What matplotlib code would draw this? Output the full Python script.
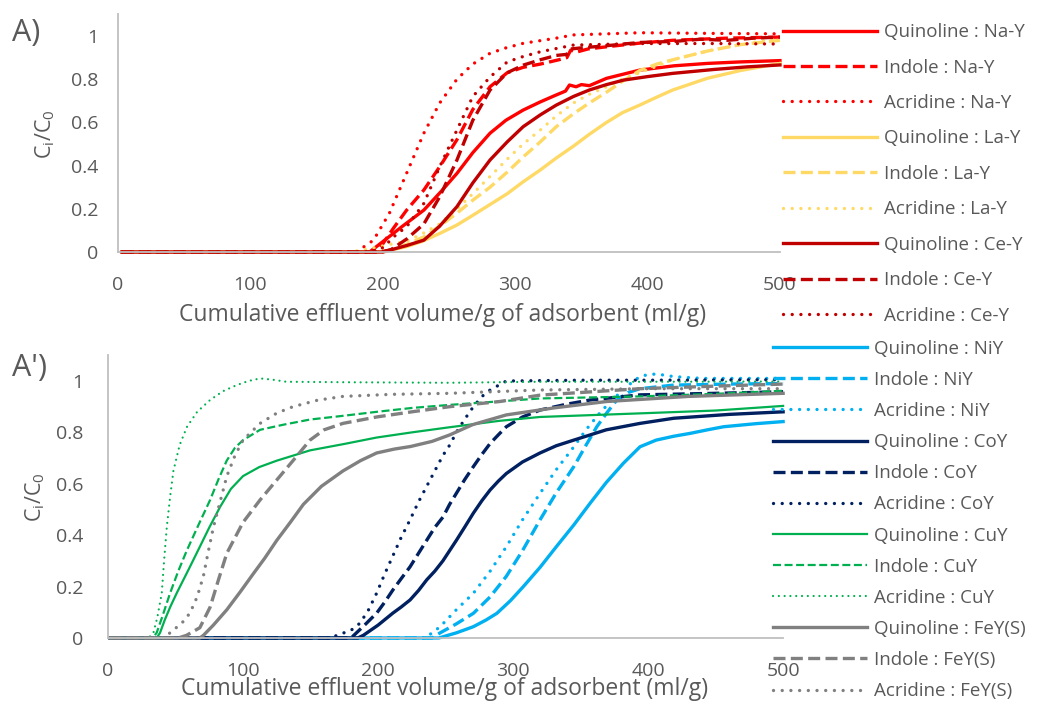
import matplotlib.pyplot as plt

plt.rcParams['font.family'] = ['Open Sans', 'DejaVu Sans']
GREY = '#595959'

# ---- panel A: Na-Y / La-Y / Ce-Y (x = ml/g, y = Ci/C0) ----
naq_x = [3, 190, 200, 215, 231, 244, 256, 268, 281, 293, 306, 319, 331, 338, 341, 346, 350, 356, 369, 394, 420, 445, 470, 500]
naq_y = [0, 0, 0.048, 0.12, 0.194, 0.28, 0.364, 0.46, 0.55, 0.61, 0.657, 0.695, 0.727, 0.745, 0.773, 0.765, 0.775, 0.77, 0.804, 0.842, 0.862, 0.873, 0.88, 0.886]
nai_x = [3, 192, 198, 208, 218, 231, 243, 256, 268, 281, 294, 306, 319, 333, 339, 342, 346, 355, 369, 394, 419, 460, 500]
nai_y = [0, 0, 0.02, 0.11, 0.194, 0.287, 0.395, 0.52, 0.66, 0.765, 0.83, 0.855, 0.87, 0.89, 0.9, 0.935, 0.925, 0.94, 0.95, 0.967, 0.98, 0.99, 0.995]
naa_x = [3, 180, 193, 205, 218, 231, 243, 256, 268, 281, 293, 306, 331, 344, 394, 450, 500]
naa_y = [0, 0, 0.055, 0.18, 0.365, 0.55, 0.69, 0.8, 0.87, 0.92, 0.945, 0.966, 0.99, 1.005, 1.015, 1.012, 1.01]
laq_x = [3, 195, 205, 218, 230, 243, 256, 268, 281, 294, 306, 319, 331, 344, 356, 369, 381, 394, 407, 419, 445, 470, 500]
laq_y = [0, 0, 0.008, 0.025, 0.05, 0.086, 0.125, 0.17, 0.22, 0.27, 0.325, 0.38, 0.435, 0.49, 0.545, 0.6, 0.645, 0.68, 0.717, 0.75, 0.804, 0.84, 0.873]
lai_x = [3, 200, 212, 231, 243, 256, 268, 281, 294, 306, 319, 331, 344, 356, 369, 381, 394, 407, 419, 445, 470, 500]
lai_y = [0, 0, 0.02, 0.07, 0.12, 0.18, 0.24, 0.3, 0.37, 0.44, 0.51, 0.58, 0.64, 0.69, 0.74, 0.79, 0.84, 0.87, 0.89, 0.93, 0.96, 0.98]
laa_x = [3, 175, 190, 205, 218, 230, 243, 256, 268, 281, 294, 306, 319, 331, 344, 356, 369, 381, 394, 407, 419, 445, 470, 500]
laa_y = [0, 0, 0.015, 0.035, 0.05, 0.085, 0.13, 0.2, 0.27, 0.35, 0.43, 0.5, 0.565, 0.63, 0.69, 0.73, 0.765, 0.8, 0.83, 0.86, 0.89, 0.93, 0.96, 0.99]
ceq_x = [3, 200, 206, 218, 231, 243, 256, 268, 281, 294, 306, 319, 331, 344, 356, 369, 382, 400, 419, 450, 475, 500]
ceq_y = [0, 0, 0.01, 0.03, 0.055, 0.12, 0.21, 0.32, 0.426, 0.51, 0.58, 0.635, 0.68, 0.72, 0.75, 0.775, 0.796, 0.812, 0.827, 0.845, 0.857, 0.866]
cei_x = [3, 198, 206, 218, 231, 243, 256, 268, 281, 294, 306, 319, 331, 339, 342, 350, 369, 394, 420, 440, 460, 480, 500]
cei_y = [0, 0, 0.01, 0.06, 0.13, 0.256, 0.426, 0.61, 0.75, 0.83, 0.865, 0.89, 0.91, 0.915, 0.94, 0.945, 0.955, 0.97, 0.975, 0.985, 0.98, 0.99, 0.995]
cea_x = [3, 190, 200, 210, 218, 231, 243, 256, 268, 281, 294, 306, 319, 344, 394, 450, 500]
cea_y = [0, 0, 0.02, 0.08, 0.117, 0.225, 0.395, 0.565, 0.72, 0.81, 0.88, 0.905, 0.927, 0.958, 0.965, 0.965, 0.963]

# ---- panel A': NiY / CoY / CuY / FeY(S) ----
niq_x = [1.5, 245, 258, 270.6, 280, 288, 298, 307.6, 320, 332, 345, 357, 369, 381.7, 394, 406, 419, 431, 444, 456, 480, 500]
niq_y = [0, 0, 0.02, 0.044, 0.07, 0.096, 0.145, 0.2, 0.275, 0.355, 0.44, 0.524, 0.605, 0.68, 0.744, 0.77, 0.785, 0.796, 0.81, 0.822, 0.834, 0.842]
nii_x = [1.5, 240, 246, 258, 270.6, 283, 295, 307, 320, 332, 345, 354, 362, 370, 376.8, 385, 394, 419, 460, 500]
nii_y = [0, 0, 0.02, 0.055, 0.096, 0.16, 0.24, 0.34, 0.46, 0.565, 0.667, 0.75, 0.822, 0.88, 0.926, 0.955, 0.97, 0.984, 0.988, 0.99]
nia_x = [1.5, 235, 246, 258, 270.6, 283, 295, 307, 320, 332, 345, 354, 364, 373, 381.7, 388, 394, 400, 406, 413, 419, 440, 500]
nia_y = [0, 0, 0.044, 0.11, 0.174, 0.26, 0.355, 0.46, 0.563, 0.655, 0.744, 0.81, 0.874, 0.925, 0.965, 0.995, 1.017, 1.025, 1.027, 1.022, 1.017, 1.01, 1.01]
coq_x = [1.5, 185, 189, 200, 211, 217, 223.7, 230, 236, 242, 248, 253, 258, 264, 270.6, 277, 283, 289, 295, 307, 320, 332, 345, 357, 369, 394, 419, 460, 500]
coq_y = [0, 0, 0.01, 0.05, 0.097, 0.12, 0.148, 0.185, 0.226, 0.26, 0.3, 0.34, 0.38, 0.43, 0.486, 0.535, 0.576, 0.61, 0.64, 0.685, 0.72, 0.748, 0.77, 0.79, 0.81, 0.835, 0.855, 0.87, 0.88]
coi_x = [1.5, 180, 184, 190, 199, 205, 211, 217, 223.7, 230, 236, 242, 248, 253, 258, 264, 270.6, 277, 283, 289, 295, 307, 320, 340, 357, 394, 450, 500]
coi_y = [0, 0, 0.02, 0.05, 0.097, 0.14, 0.187, 0.23, 0.277, 0.33, 0.38, 0.43, 0.47, 0.52, 0.563, 0.615, 0.667, 0.715, 0.757, 0.79, 0.822, 0.86, 0.887, 0.91, 0.926, 0.946, 0.952, 0.958]
coa_x = [1.5, 165, 169.4, 180, 186.7, 193, 199, 205, 211, 217, 223.7, 230, 236, 242, 248, 253, 258, 264, 270.6, 277, 283, 295, 350, 400, 500]
coa_y = [0, 0, 0.01, 0.03, 0.058, 0.11, 0.175, 0.25, 0.32, 0.39, 0.46, 0.53, 0.59, 0.65, 0.71, 0.75, 0.8, 0.85, 0.9, 0.94, 0.965, 1.0, 1.003, 1.003, 1.005]
cuq_x = [1.5, 36, 38.5, 42, 46, 50.9, 60, 68, 75, 83, 91, 100, 112, 125, 149.6, 175, 199, 225, 253, 290, 320, 394, 450, 500]
cuq_y = [0, 0, 0.02, 0.07, 0.12, 0.175, 0.27, 0.355, 0.43, 0.51, 0.58, 0.63, 0.665, 0.69, 0.73, 0.755, 0.78, 0.8, 0.82, 0.845, 0.86, 0.874, 0.885, 0.903]
cui_x = [1.5, 33, 36, 40, 46, 52, 58.3, 67, 75.6, 82, 87.9, 94, 100, 112.6, 130, 149.6, 175, 199, 225, 253, 320, 394, 450, 500]
cui_y = [0, 0, 0.02, 0.08, 0.175, 0.26, 0.34, 0.44, 0.537, 0.62, 0.69, 0.74, 0.77, 0.81, 0.83, 0.85, 0.865, 0.88, 0.895, 0.907, 0.932, 0.94, 0.95, 0.962]
cua_x = [1.5, 30, 33.6, 36.5, 39.8, 41.5, 43.5, 46, 48.4, 53, 58.3, 66, 75.6, 85, 95.3, 104, 112.6, 122, 132, 180, 253, 320, 400, 500]
cua_y = [0, 0, 0.02, 0.08, 0.175, 0.3, 0.43, 0.55, 0.65, 0.75, 0.82, 0.88, 0.926, 0.96, 0.984, 1.0, 1.01, 1.005, 0.997, 0.995, 0.993, 0.997, 0.997, 0.998]
feq_x = [1.5, 68, 70.6, 78, 88, 98, 107.6, 116, 125, 135, 144.7, 158, 174, 187, 199, 212, 224, 240, 253, 270, 295, 330, 369, 430, 500]
feq_y = [0, 0, 0.01, 0.05, 0.11, 0.18, 0.25, 0.31, 0.38, 0.45, 0.52, 0.59, 0.65, 0.69, 0.72, 0.735, 0.745, 0.765, 0.79, 0.83, 0.868, 0.895, 0.92, 0.94, 0.952]
fei_x = [1.5, 52, 58, 68, 75.6, 82, 88, 94, 100, 112.6, 125, 137, 149.6, 160, 174, 199, 225, 253, 290, 320, 394, 450, 500]
fei_y = [0, 0, 0.01, 0.04, 0.12, 0.23, 0.33, 0.39, 0.45, 0.537, 0.615, 0.69, 0.77, 0.81, 0.835, 0.86, 0.88, 0.9, 0.92, 0.945, 0.97, 0.98, 0.988]
fea_x = [1.5, 40, 46, 55, 60.7, 66, 70.6, 74, 78, 83, 88, 94, 100, 112.6, 125, 137, 155, 174, 210, 253, 320, 400, 500]
fea_y = [0, 0, 0.02, 0.06, 0.097, 0.16, 0.24, 0.33, 0.43, 0.53, 0.63, 0.71, 0.77, 0.835, 0.875, 0.9, 0.925, 0.94, 0.948, 0.952, 0.965, 0.97, 0.97]

labels_a = ['Quinoline : Na-Y', 'Indole : Na-Y', 'Acridine : Na-Y',
            'Quinoline : La-Y', 'Indole : La-Y', 'Acridine : La-Y',
            'Quinoline : Ce-Y', 'Indole : Ce-Y', 'Acridine : Ce-Y']
labels_b = ['Quinoline : NiY', 'Indole : NiY', 'Acridine : NiY',
            'Quinoline : CoY', 'Indole : CoY', 'Acridine : CoY',
            'Quinoline : CuY', 'Indole : CuY', 'Acridine : CuY',
            'Quinoline : FeY(S)', 'Indole : FeY(S)', 'Acridine : FeY(S)']

series_a = [(naq_x, naq_y), (nai_x, nai_y), (naa_x, naa_y),
            (laq_x, laq_y), (lai_x, lai_y), (laa_x, laa_y),
            (ceq_x, ceq_y), (cei_x, cei_y), (cea_x, cea_y)]
series_b = [(niq_x, niq_y), (nii_x, nii_y), (nia_x, nia_y),
            (coq_x, coq_y), (coi_x, coi_y), (coa_x, coa_y),
            (cuq_x, cuq_y), (cui_x, cui_y), (cua_x, cua_y),
            (feq_x, feq_y), (fei_x, fei_y), (fea_x, fea_y)]

colors_a = ['#FF0000', '#FFD966', '#C00000']
colors_b = ['#00B0F0', '#002060', '#00B050', '#808080']
styles = ['-', (0, (3.6, 1.6)), (0, (0.01, 2.6))]

fig = plt.figure(figsize=(10.54, 7.02), dpi=100)
ax1 = fig.add_axes([0.112, 0.641, 0.628, 0.3385])
ax2 = fig.add_axes([0.1025, 0.0912, 0.6405, 0.4027])


def style_axes(ax, ypad, xpad):
    ax.set_xlim(0, 500)
    ax.set_ylim(0, 1.1)
    ax.set_xticks([0, 100, 200, 300, 400, 500])
    ax.set_yticks([0, 0.2, 0.4, 0.6, 0.8, 1.0])
    ax.set_yticklabels(['0', '0.2', '0.4', '0.6', '0.8', '1'])
    for s in ['top', 'right']:
        ax.spines[s].set_visible(False)
    for s in ['left', 'bottom']:
        ax.spines[s].set_color('#BFBFBF')
        ax.spines[s].set_linewidth(1.3)
    ax.tick_params(axis='both', length=0, labelsize=14, colors=GREY)
    ax.tick_params(axis='y', pad=ypad)
    ax.tick_params(axis='x', pad=xpad)


def draw(ax, series, colors, labels, thin_group=None):
    for i, (x, y) in enumerate(series):
        lw = 1.6 if i // 3 == thin_group else 2.4
        ax.plot(x, y, color=colors[i // 3], lw=lw, ls=styles[i % 3],
                dash_capstyle='round' if i % 3 == 2 else 'butt',
                label=labels[i], clip_on=False)


draw(ax1, series_a, colors_a, labels_a)
draw(ax2, series_b, colors_b, labels_b, thin_group=2)
style_axes(ax1, 14, 17)
style_axes(ax2, 18, 17)

leg1 = ax1.legend(loc='upper left', bbox_to_anchor=(0.743, 0.967), bbox_transform=fig.transFigure,
                  frameon=False, fontsize=13.5, handlelength=5.0, handletextpad=0.4,
                  labelspacing=0.93, borderpad=0, borderaxespad=0)
leg2 = ax2.legend(loc='upper left', bbox_to_anchor=(0.7335, 0.516), bbox_transform=fig.transFigure,
                  frameon=False, fontsize=13.5, handlelength=5.0, handletextpad=0.4,
                  labelspacing=0.70, borderpad=0, borderaxespad=0)
for leg in (leg1, leg2):
    for t in leg.get_texts():
        t.set_color(GREY)

xlab = 'Cumulative effluent volume/g of adsorbent (ml/g)'
ylab = r'C$_\mathregular{i}$/C$_\mathregular{0}$'
fig.text(443 / 1054, 1 - 315 / 702, xlab, ha='center', va='center', fontsize=16.5, color=GREY)
fig.text(445 / 1054, 1 - 689 / 702, xlab, ha='center', va='center', fontsize=16.5, color=GREY)
fig.text(45 / 1054, 1 - 134 / 702, ylab, ha='center', va='center', rotation=90, fontsize=15.5, color=GREY)
fig.text(35 / 1054, 1 - 497 / 702, ylab, ha='center', va='center', rotation=90, fontsize=15.5, color=GREY)
fig.text(12 / 1054, 1 - 33 / 702, 'A)', ha='left', va='center', fontsize=22, color=GREY)
fig.text(12 / 1054, 1 - 368 / 702, "A')", ha='left', va='center', fontsize=22, color=GREY)

fig.savefig('out.png', dpi=100)
